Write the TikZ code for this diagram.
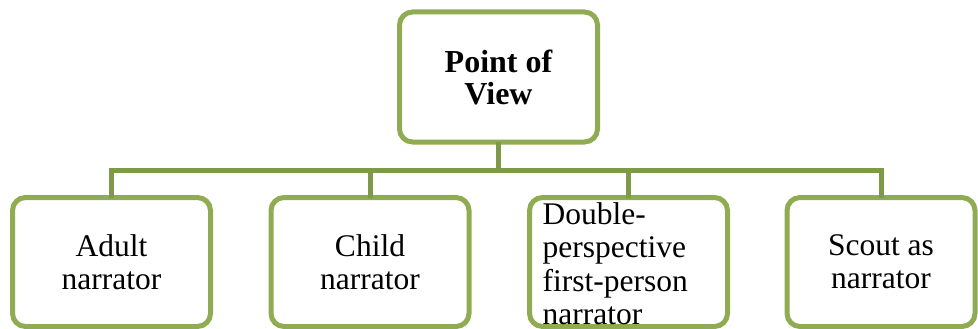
\documentclass[tikz,border=0pt]{standalone}
\usepackage{fontspec}
\setmainfont{Liberation Serif}
\usepackage{tikz}
\usetikzlibrary{positioning, calc}
\definecolor{povgreen}{HTML}{8FAC52}
\definecolor{linkgreen}{HTML}{7E9A48}
\tikzset{
  % Boxes of the hierarchy
  povbox/.style={
    rectangle, rounded corners=13pt, minimum width=198pt, minimum height=129pt,
    draw=povgreen, fill=white, line width=5pt, outer sep=0pt, inner sep=0pt,
    align=center, text=black,
  },
  % Root text
  roottext/.style={font=\fontsize{32}{32}\selectfont\bfseries},
  % Child text
  leaftext/.style={font=\fontsize{31.5}{33}\selectfont},
  % Connectors
  povlink/.style={draw=linkgreen, line width=5pt},
}
\begin{document}
\begin{tikzpicture}[x=1pt, y=-1pt, node distance=0pt and 60.5pt]
  \useasboundingbox (0,0) rectangle (978,329);

  % Top box
  \node[povbox, roottext, minimum height=130pt] (pov) at (498.5,77) {Point of\\View};

  % Second level
  \node[povbox, leaftext] (adult) at (111.5,262) {Adult\\narrator};
  \node[povbox, leaftext, right=of adult] (child) {Child\\narrator};
  \node[povbox, right=of child] (double) {};
  \node[povbox, leaftext, minimum width=188pt, right=59.5pt of double] (scout) {Scout as\\narrator};

  % Text running over the box
  \node[leaftext, anchor=north west, align=left, inner sep=0pt] (doubletext)
    at ([xshift=13pt, yshift=-4.5pt]double.north west)
    {Double-\\[0.6pt]perspective\\[0.6pt]first-person\\[0.6pt]narrator};

  % Connectors
  \coordinate (bus) at ($(pov.south)+(0,28.5)$);
  \begin{scope}[on background layer/.try]
    \draw[povlink] (pov.south) -- (bus);
    \foreach \kid in {adult, child, double, scout}
      \draw[povlink] (\kid.north) |- (bus);
  \end{scope}
\end{tikzpicture}
\end{document}
